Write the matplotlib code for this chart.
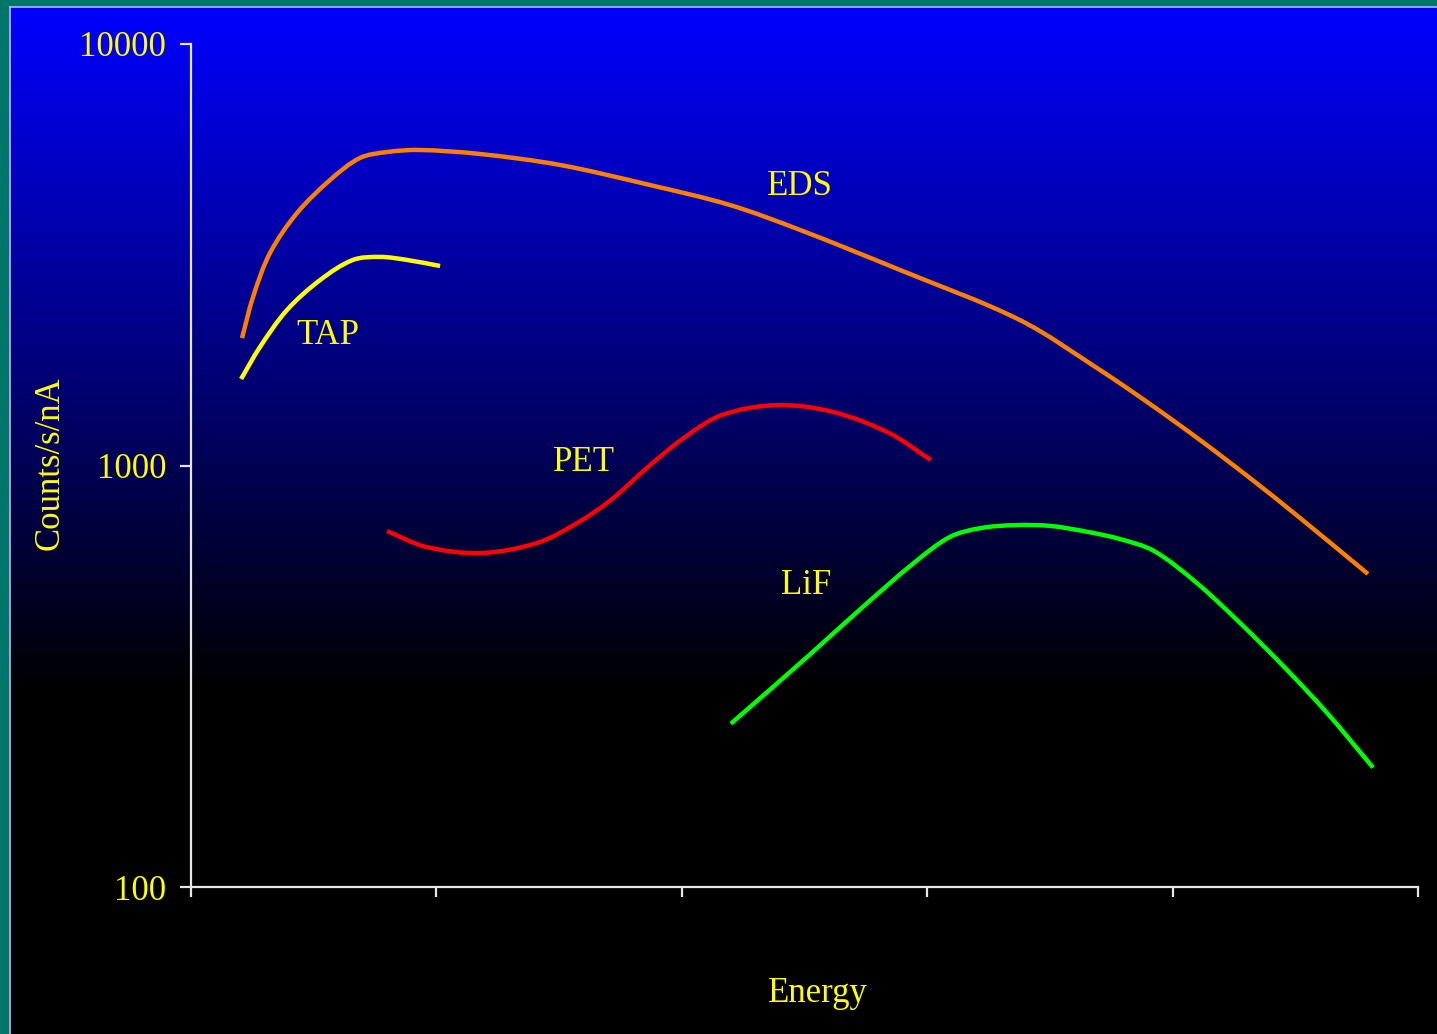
import numpy as np
import matplotlib
matplotlib.use("Agg")
import matplotlib.pyplot as plt
from matplotlib.path import Path
from matplotlib.patches import PathPatch

plt.rcParams["font.family"] = ["Liberation Serif", "DejaVu Serif"]

# detector efficiency curves (energy in arbitrary units 0..5, counts/s/nA)
eds_x = [0.208, 0.253, 0.322, 0.432, 0.566, 0.688, 0.799, 0.933, 1.178, 1.504,
         1.870, 2.196, 2.482, 2.889, 3.378, 3.704, 3.908, 4.112, 4.315, 4.519,
         4.796]
eds_y = [2006, 2512, 3193, 3972, 4753, 5364, 5543, 5605, 5483, 5164,
         4629, 4150, 3621, 2910, 2213, 1685, 1399, 1149, 934, 751, 553]

tap_x = [0.204, 0.281, 0.391, 0.526, 0.660, 0.770, 0.880, 1.015]
tap_y = [1604, 1910, 2338, 2754, 3074, 3125, 3074, 2974]

pet_x = [0.799, 0.958, 1.182, 1.410, 1.573, 1.711, 1.862, 2.013, 2.164, 2.388,
         2.616, 2.844, 3.015]
pet_y = [699, 641, 620, 655, 730, 828, 992, 1168, 1318, 1391, 1340, 1195, 1030]

lif_x = [2.200, 2.510, 2.738, 2.950, 3.093, 3.215, 3.358, 3.500, 3.659, 3.786,
         3.924, 4.099, 4.275, 4.454, 4.629, 4.817]
lif_y = [244, 351, 462, 590, 677, 710, 722, 719, 695, 669, 627, 526, 423, 333,
         259, 192]

labels = ["EDS", "TAP", "PET", "LiF"]
label_x = [2.482, 0.558, 1.601, 2.506]
label_y = [4579, 2029, 1019, 518]

yticks = [100, 1000, 10000]
xticks = [0, 1, 2, 3, 4, 5]

W, H = 1437, 1034
YELLOW = "#ffff00"
AXIS = "#e6e6e6"


def smooth_path(xs, ys):
    # smooth cubic through the points in (x, log y), chord-length tangents
    scale = np.array([245.4, 421.5])
    p = np.column_stack([xs, np.log10(ys)]) * scale
    d = np.linalg.norm(np.diff(p, axis=0), axis=1)
    n = len(p)
    tang = np.zeros_like(p)
    tang[0] = (p[1] - p[0]) / d[0]
    tang[-1] = (p[-1] - p[-2]) / d[-1]
    for i in range(1, n - 1):
        tang[i] = (p[i + 1] - p[i - 1]) / (d[i - 1] + d[i])
    verts = [p[0]]
    codes = [Path.MOVETO]
    for i in range(n - 1):
        c1 = p[i] + tang[i] * d[i] / 3
        c2 = p[i + 1] - tang[i + 1] * d[i] / 3
        verts += [c1, c2, p[i + 1]]
        codes += [Path.CURVE4] * 3
    verts = np.array(verts) / scale
    verts[:, 1] = 10 ** verts[:, 1]
    return Path(verts, codes)


fig = plt.figure(figsize=(W / 100, H / 100), dpi=100)
fig.patch.set_facecolor("#00756a")

# blue-to-black panel
bg = fig.add_axes([10 / W, 0, 1 - 10 / W, 1 - 7 / H])
rows = np.arange(H - 7)
level = np.clip(1 - rows / 683.0, 0, 1)
grad = np.zeros((len(rows), 2, 3))
grad[:, :, 2] = level[:, None]
bg.imshow(grad, aspect="auto", extent=[0, 1, 0, 1])
bg.set_xticks([])
bg.set_yticks([])
for side in ["right", "bottom"]:
    bg.spines[side].set_visible(False)
for side in ["left", "top"]:
    bg.spines[side].set_color("#b8b8f0")
    bg.spines[side].set_linewidth(1.2)

ax = fig.add_axes([191 / W, 1 - 887 / H, 1227 / W, 843 / H])
ax.patch.set_alpha(0)
ax.set_yscale("log")
ax.set_xlim(0, 5)
ax.set_ylim(100, 10000)

series = [(eds_x, eds_y, "#ff8000"), (tap_x, tap_y, "#ffff00"),
          (pet_x, pet_y, "#ff0000"), (lif_x, lif_y, "#00ff00")]
for xs, ys, col in series:
    ax.add_patch(PathPatch(smooth_path(xs, ys), facecolor="none", edgecolor=col,
                           lw=3.2, capstyle="butt"))

for name, lx, ly in zip(labels, label_x, label_y):
    ax.text(lx, ly, name, color=YELLOW, fontsize=25, ha="center", va="center")

ax.set_yticks(yticks)
ax.set_yticklabels([str(v) for v in yticks])
ax.yaxis.set_minor_locator(matplotlib.ticker.NullLocator())
ax.set_xticks(xticks)
ax.set_xticklabels([])

for side in ["top", "right"]:
    ax.spines[side].set_visible(False)
for side in ["left", "bottom"]:
    ax.spines[side].set_color(AXIS)
    ax.spines[side].set_linewidth(1.6)

ax.tick_params(axis="y", direction="out", length=8, width=1.6, color=AXIS,
               labelcolor=YELLOW, labelsize=25, pad=10)
ax.tick_params(axis="x", direction="out", length=7, width=1.6, color=AXIS)

ax.set_ylabel("Counts/s/nA", color=YELLOW, fontsize=25, va="center")
ax.yaxis.set_label_coords(-0.115, 0.503)
ax.set_xlabel("Energy", color=YELLOW, fontsize=25, va="center")
ax.xaxis.set_label_coords(0.511, -0.126)

fig.savefig("out.png", dpi=100, facecolor=fig.get_facecolor())
